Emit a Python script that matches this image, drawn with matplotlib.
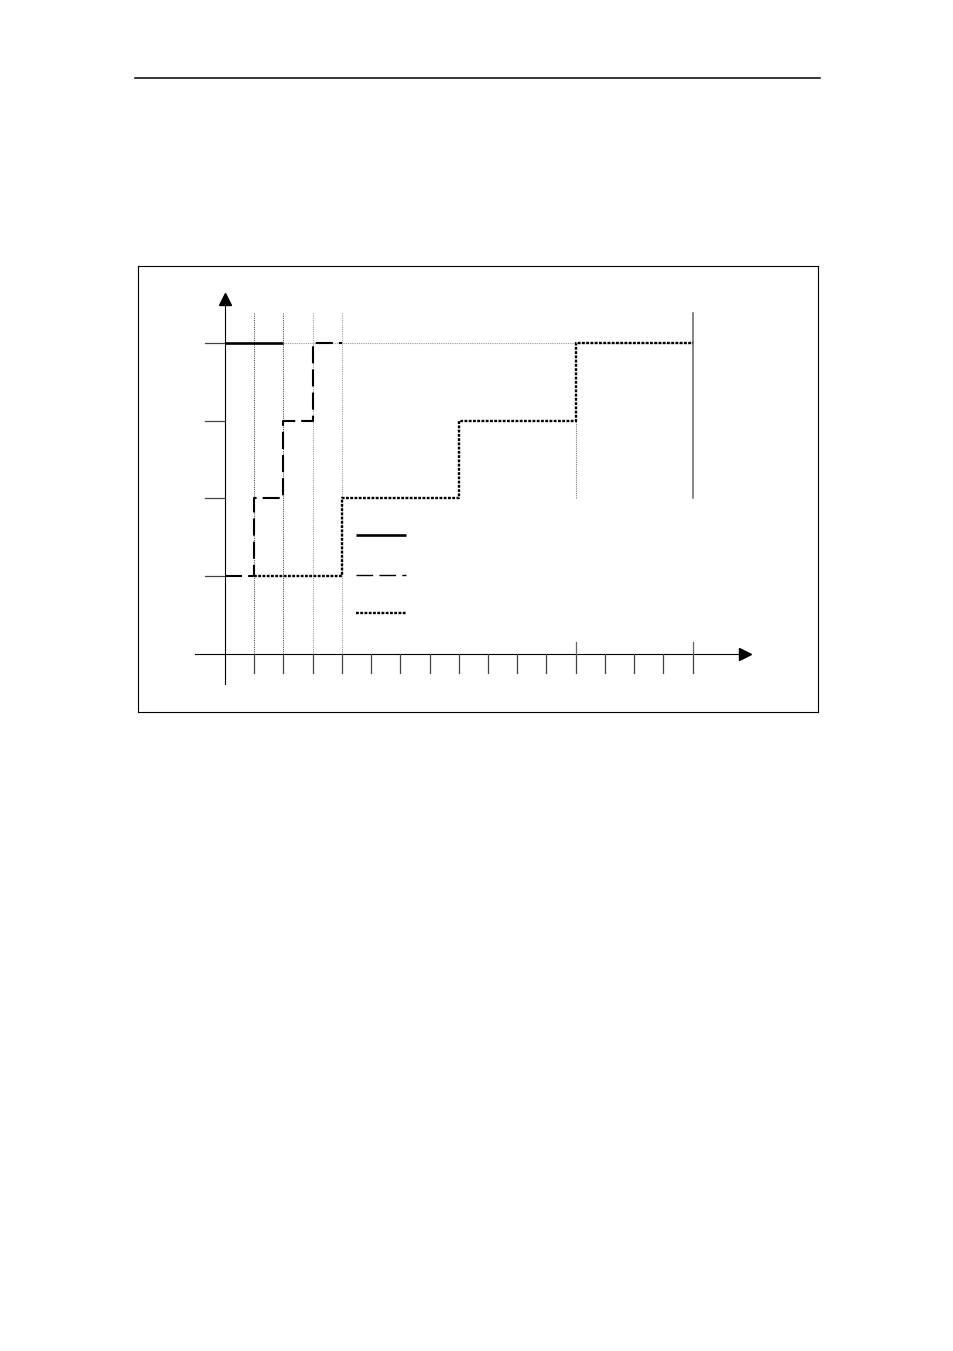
import matplotlib

matplotlib.use('Agg')
import matplotlib.pyplot as plt

# step profiles (x in tick units, y in levels)
solid_x = [0, 2]
solid_y = [4, 4]
dashed_x = [0, 1, 2, 3, 4]
dashed_y = [1, 2, 3, 4, 4]
dotted_x = [1, 4, 8, 12, 16]
dotted_y = [1, 2, 3, 4, 4]

x_ticks = list(range(1, 17))
y_ticks = [1, 2, 3, 4]

# guide lines
guide_dark_x = [1, 2]
guide_light_x = [3, 4]
guide_top = 4.38
level_guide_x = [2, 16]
step_guide_x = 12
step_guide_y = [2, 3]
end_line_x = 16
end_line_y = [2, guide_top]

# legend samples (no labels in the original)
legend_x = [4.48, 6.18]
legend_y = [1.53, 1.01, 0.53]

W, H = 954, 1351
fig = plt.figure(figsize=(W / 100, H / 100), dpi=100)

# header rule across the page
fig.add_artist(plt.Line2D([135 / W, 820 / W], [1 - 78 / H, 1 - 78 / H],
                          color='black', lw=1.1))

ax = fig.add_axes([138 / W, 1 - 712 / H, 680 / W, 446 / H])
ax.set_xlim(-2.977, 20.294)
ax.set_ylim(-0.7455, 4.987)
ax.set_xticks([])
ax.set_yticks([])
for sp in ax.spines.values():
    sp.set_linewidth(0.8)
    sp.set_color('black')

dot_guide = dict(lw=0.8, linestyle=(0, (1, 1)))

for gx in guide_dark_x:
    ax.plot([gx, gx], [0, guide_top], color='#555555', **dot_guide)
for gx in guide_light_x:
    ax.plot([gx, gx], [0, guide_top], color='#a0a0a0', **dot_guide)
ax.plot(level_guide_x, [4, 4], color='#999999', **dot_guide)
ax.plot([step_guide_x, step_guide_x], step_guide_y, color='#777777', **dot_guide)
ax.plot([end_line_x, end_line_x], end_line_y, color='#666666', lw=1.1)

# coordinate axes with arrow heads
ax.plot([0, 0], [-0.386, 4.5], color='black', lw=0.8)
ax.plot([-1.027, 17.7], [0, 0], color='black', lw=0.8)
ax.plot([0], [4.557], marker='^', ms=8.5, color='black', mec='black')
ax.plot([17.8], [0], marker='>', ms=8.5, color='black', mec='black')

for tx in x_ticks:
    ax.plot([tx, tx], [0, -0.244], color='#444444', lw=0.9)
for tx in (12, 16):
    ax.plot([tx, tx], [0, 0.154], color='#666666', lw=0.9)
for ty in y_ticks:
    ax.plot([-0.695, 0], [ty, ty], color='#444444', lw=0.9)

# step series
solid_style = dict(color='black', lw=1.9, solid_capstyle='butt')
dashed_style = dict(color='black', lw=1.5, linestyle=(0, (8.2, 2.9)))
dotted_style = dict(color='black', lw=1.7, linestyle=(0, (1.2, 0.6)))

ax.plot(solid_x, solid_y, **solid_style)
ax.plot(dashed_x, dashed_y, drawstyle='steps-post', **dashed_style)
ax.plot(dotted_x, dotted_y, drawstyle='steps-post', **dotted_style)

ax.plot(legend_x, [legend_y[0]] * 2, **solid_style)
ax.plot(legend_x, [legend_y[1]] * 2, color='black', lw=1.0,
        linestyle=(0, (12, 4.5)))
ax.plot(legend_x, [legend_y[2]] * 2, **dotted_style)

fig.savefig('out.png', dpi=100)
plt.close(fig)
